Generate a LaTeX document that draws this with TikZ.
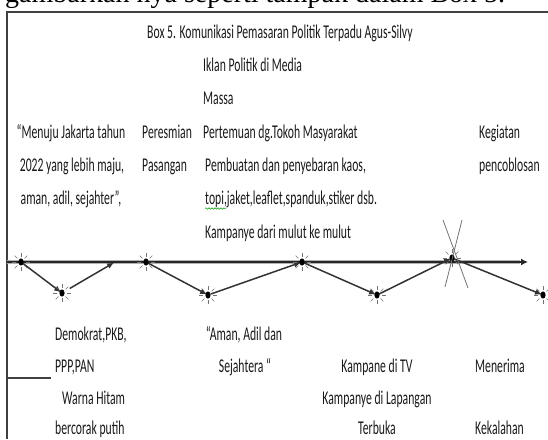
\documentclass[tikz,border=0pt]{standalone}
\usepackage{fontspec}
\newfontfamily\boxfont[FakeStretch=0.6]{Carlito}
\newfontfamily\pagefont{Liberation Serif}
\usetikzlibrary{arrows.meta,decorations.pathmorphing}

\begin{document}
\begin{tikzpicture}[x=1pt,y=-1pt,
  txt/.style={font={\boxfont\fontsize{19.5}{22}\selectfont},inner sep=0pt,anchor=base west,text=black!90},
  ctxt/.style={txt,anchor=base},
  frame/.style={draw=black!75,line width=1.4pt},
  seg/.style={draw=black!80,line width=1.5pt,-{Latex[length=7pt,width=6pt]},shorten >=1pt},
  xline/.style={draw=black!55,line width=0.8pt},
  tick/.style={draw=black!55,line width=0.6pt}]

  \useasboundingbox (0,0) rectangle (548,439);
  \clip (0,0) rectangle (548,439);

  % line of the page above the box, cut off
  \node[anchor=base west,inner sep=0pt,font={\pagefont\fontsize{28}{30}\selectfont}] (page) at (5,2) {gambarkan nya seperti tampak dalam Box 5.};

  % frame
  \draw[frame] (7,439) -- (7,12) -- (548,12);
  \draw[frame] (7,378) -- (51,378);

  % points
  \coordinate (S) at (7,262);
  \coordinate (E) at (528,262);
  \coordinate (P1) at (21,262);
  \coordinate (L1) at (62,293);
  \coordinate (T1) at (115,262);
  \coordinate (P2) at (146,262);
  \coordinate (L2) at (208,295);
  \coordinate (P3) at (302,262);
  \coordinate (L3) at (377,295);
  \coordinate (P4) at (452,258);
  \coordinate (L4) at (543,295);

  % main line
  \draw[line width=4pt,black!30] (S) -- (520,262);
  \draw[line width=1.8pt,black!85,-{Latex[length=7pt,width=7pt]}] (S) -- (E);

  \draw[seg] (P1) -- (L1);
  \draw[seg,shorten <=9pt] (L1) -- (T1);
  \draw[seg] (P2) -- (L2);
  \draw[seg,shorten <=3pt] (L2) -- (P3);
  \draw[seg] (P3) -- (L3);
  \draw[seg] (L3) -- (P4);
  \draw[seg] (P4) -- (L4);

  \foreach \p in {P1,L1,P2,L2,P3,L3,P4,L4} {
    \fill[black] (\p) ellipse (2.6 and 3.6);
    \foreach \a in {0,45,...,315}
      \draw[tick] (\p) ++(\a:5) -- ++(\a:4);
  }

  % cross over the voting day
  \draw[xline] ([shift={(-9,-38)}]P4) -- ([shift={(16,30)}]P4);
  \draw[xline] ([shift={(10,-38)}]P4) -- ([shift={(-7,29)}]P4);

  % texts above the line
  \node[txt] (title) at (147,38) {Box 5. Komunikasi Pemasaran Politik Terpadu Agus-Silvy};
  \node[txt] (iklan) at (203,71) {Iklan Politik di Media};
  \node[txt] (massa) at (203,104) {Massa};
  \node[txt] (temu) at (203,138) {Pertemuan dg.Tokoh Masyarakat};
  \node[txt] (kaos) at (205,171) {Pembuatan dan penyebaran kaos,};
  \node[txt] (topi) at (205,204) {topi,jaket,leaflet,spanduk,stiker dsb.};
  \node[txt] (mulut) at (205,238) {Kampanye dari mulut ke mulut};
  \draw[green!60!black,line width=0.5pt,decorate,decoration={snake,amplitude=0.8pt,segment length=3pt}]
    ([yshift=-4.5pt]topi.base west) -- +(21,0);

  \node[ctxt] (visi1) at (71,138) {“Menuju Jakarta tahun};
  \node[ctxt] (visi2) at (72,171) {2022 yang lebih maju,};
  \node[ctxt] (visi3) at (71,204) {aman, adil, sejahter”,};

  \node[txt] (resmi1) at (142,138) {Peresmian};
  \node[txt] (resmi2) at (142,171) {Pasangan};

  \node[txt] (coblos1) at (479,138) {Kegiatan};
  \node[txt] (coblos2) at (479,171) {pencoblosan};

  % texts below the line
  \node[txt] (partai1) at (55,340) {Demokrat,PKB,};
  \node[txt] (partai2) at (55,372) {PPP,PAN};
  \node[txt] (warna1) at (62,404) {Warna Hitam};
  \node[txt] (warna2) at (55,434) {bercorak putih};

  \node[ctxt] (slogan1) at (244,340) {“Aman, Adil dan};
  \node[ctxt] (slogan2) at (245,372) {Sejahtera “};

  \node[ctxt] (tv) at (377,372) {Kampane di TV};
  \node[ctxt] (lapangan1) at (377,404) {Kampanye di Lapangan};
  \node[ctxt] (lapangan2) at (377,434) {Terbuka};

  \node[txt] (kalah1) at (475,372) {Menerima};
  \node[txt] (kalah2) at (475,434) {Kekalahan};

\end{tikzpicture}
\end{document}
